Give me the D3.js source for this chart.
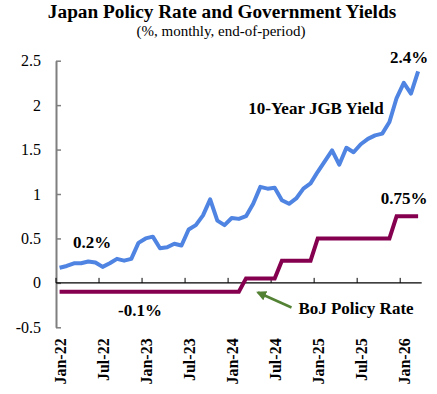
<!DOCTYPE html>
<html>
<head>
<meta charset="utf-8">
<script src="https://cdn.jsdelivr.net/npm/d3@7"></script>
<style>
  body { margin: 0; background: #fff; }
  svg { display: block; font-family: "Liberation Serif", "Times New Roman", serif; }
</style>
</head>
<body>
<svg id="chart" width="437" height="394"></svg>
<script>
const BLUE = "#4f84e2";
const MAROON = "#860050";
const GREEN = "#548235";

// monthly, Jan-22 .. Mar-26
const MONTHS = d3.timeMonths(new Date(2022, 0, 1), new Date(2026, 3, 1));
const monthFmt = d3.timeFormat("%b-%y");
const months = MONTHS.map(monthFmt);

const jgb10y = [
  0.17, 0.19, 0.22, 0.22, 0.24, 0.23, 0.18, 0.22, 0.27, 0.25, 0.27, 0.45,
  0.50, 0.52, 0.39, 0.40, 0.44, 0.42, 0.60, 0.65, 0.76, 0.94, 0.70, 0.65,
  0.73, 0.72, 0.75, 0.89, 1.08, 1.06, 1.07, 0.93, 0.89, 0.95, 1.06, 1.12,
  1.25, 1.37, 1.49, 1.33, 1.52, 1.47, 1.56, 1.62, 1.66, 1.68, 1.81, 2.08,
  2.25, 2.13, 2.38
];

const policyRate = [
  -0.1, -0.1, -0.1, -0.1, -0.1, -0.1, -0.1, -0.1, -0.1, -0.1, -0.1, -0.1,
  -0.1, -0.1, -0.1, -0.1, -0.1, -0.1, -0.1, -0.1, -0.1, -0.1, -0.1, -0.1,
  -0.1, -0.1, 0.05, 0.05, 0.05, 0.05, 0.05, 0.25, 0.25, 0.25, 0.25, 0.25,
  0.5, 0.5, 0.5, 0.5, 0.5, 0.5, 0.5, 0.5, 0.5, 0.5, 0.5, 0.75,
  0.75, 0.75, 0.75
];

const yTicks = [-0.5, 0, 0.5, 1, 1.5, 2, 2.5];
const xTickLabels = months.filter(function(d) {
  return d.startsWith("Jan") || d.startsWith("Jul");
});

var svg = d3.select("#chart");

var x = d3.scaleBand().domain(months).range([56, 421.7]).padding(0);
var y = d3.scaleLinear().domain([-0.5, 2.5]).range([327.3, 60.7]);

function cx(d) {
  return x(d) + x.bandwidth() / 2;
}

// title
svg.append("text")
  .attr("x", 222)
  .attr("y", 18)
  .attr("text-anchor", "middle")
  .attr("font-size", 19.3)
  .attr("font-weight", "bold")
  .text("Japan Policy Rate and Government Yields");

svg.append("text")
  .attr("x", 221)
  .attr("y", 35.5)
  .attr("text-anchor", "middle")
  .attr("font-size", 15)
  .text("(%, monthly, end-of-period)");

// y axis
var yAxis = svg.append("g")
  .attr("transform", "translate(56,0)")
  .call(d3.axisLeft(y).tickValues(yTicks).tickSizeInner(-5).tickSizeOuter(0)
    .tickPadding(15).tickFormat(function(d) { return String(d); }));
yAxis.select(".domain").attr("stroke", "#7f7f7f").attr("stroke-width", 2);
yAxis.selectAll(".tick line").attr("stroke", "#7f7f7f").attr("stroke-width", 1.5);
yAxis.selectAll("text")
  .attr("font-family", "Liberation Serif, serif")
  .attr("font-size", 16)
  .attr("fill", "#000");

// x axis along zero
var y0 = y(0);
svg.append("line")
  .attr("x1", 56).attr("x2", 421.7)
  .attr("y1", y0).attr("y2", y0)
  .attr("stroke", "#000")
  .attr("stroke-width", 1.2);

svg.append("g")
  .selectAll("line")
  .data(xTickLabels)
  .enter()
  .append("line")
  .attr("x1", function(d) { return x(d); })
  .attr("x2", function(d) { return x(d); })
  .attr("y1", y0)
  .attr("y2", y0 - 5)
  .attr("stroke", "#000")
  .attr("stroke-width", 1);

svg.append("g")
  .selectAll("text")
  .data(xTickLabels)
  .enter()
  .append("text")
  .attr("transform", function(d) {
    return "translate(" + (cx(d) + 1) + "," + (y0 + 55.5) + ") rotate(-90)";
  })
  .attr("text-anchor", "end")
  .attr("dy", "0.35em")
  .attr("font-size", 16)
  .attr("font-weight", "bold")
  .text(function(d) { return d; });

// lines
var line = d3.line()
  .x(function(d, i) { return cx(months[i]); })
  .y(function(d) { return y(d); });

svg.append("path")
  .datum(policyRate)
  .attr("fill", "none")
  .attr("stroke", MAROON)
  .attr("stroke-width", 4)
  .attr("d", line);

svg.append("path")
  .datum(jgb10y)
  .attr("fill", "none")
  .attr("stroke", BLUE)
  .attr("stroke-width", 4)
  .attr("stroke-linejoin", "round")
  .attr("d", line);

// annotations
var notes = [
  { t: "2.4%", x: 409, y: 63, a: "middle" },
  { t: "10-Year JGB Yield", x: 316, y: 114, a: "middle" },
  { t: "0.75%", x: 404, y: 204, a: "middle" },
  { t: "0.2%", x: 92, y: 248, a: "middle" },
  { t: "-0.1%", x: 140, y: 316, a: "middle" },
  { t: "BoJ Policy Rate", x: 356, y: 314, a: "middle" }
];
svg.append("g")
  .selectAll("text")
  .data(notes)
  .enter()
  .append("text")
  .attr("x", function(d) { return d.x; })
  .attr("y", function(d) { return d.y; })
  .attr("text-anchor", function(d) { return d.a; })
  .attr("font-size", 17)
  .attr("font-weight", "bold")
  .text(function(d) { return d.t; });

// arrow pointing at the first hike
svg.append("defs")
  .append("marker")
  .attr("id", "head")
  .attr("viewBox", "0 0 10 10")
  .attr("refX", 8)
  .attr("refY", 5)
  .attr("markerWidth", 4)
  .attr("markerHeight", 4)
  .attr("orient", "auto")
  .append("path")
  .attr("d", "M0,0L10,5L0,10z")
  .attr("fill", GREEN);

svg.append("line")
  .attr("x1", 291.5).attr("y1", 307.5)
  .attr("x2", 258).attr("y2", 292.5)
  .attr("stroke", GREEN)
  .attr("stroke-width", 2.5)
  .attr("marker-end", "url(#head)");
</script>
</body>
</html>
